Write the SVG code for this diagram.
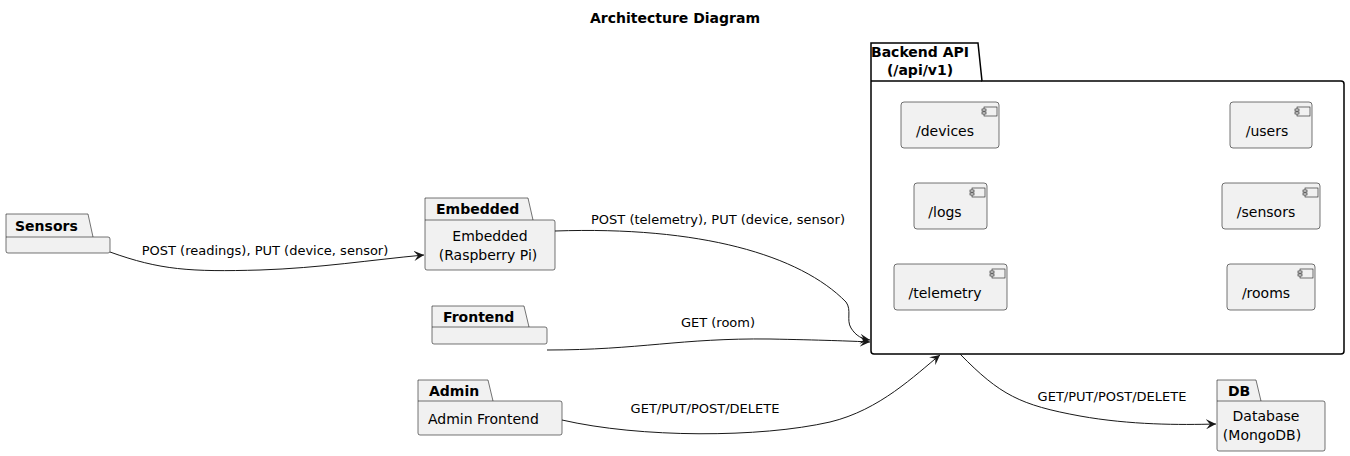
<svg xmlns="http://www.w3.org/2000/svg" width="1350" height="456" viewBox="0 0 1350 456">
<style>
text{font-family:"DejaVu Sans",sans-serif;font-size:13px;fill:#000}
.n{font-size:14px}
.b{font-weight:bold;font-size:14px}
.p{fill:#f1f1f1;stroke:#181818;stroke-width:0.6}
.c{fill:#f1f1f1;stroke:#181818;stroke-width:0.6}
.e{fill:none;stroke:#181818;stroke-width:1}
</style>
<defs><marker id="a" markerWidth="12" markerHeight="10" refX="10" refY="5" orient="auto" markerUnits="userSpaceOnUse"><path d="M0,0 L10,5 L0,10 L4,5 Z" fill="#181818"/></marker>
<g id="ic"><rect x="-10" y="0" width="13" height="9" fill="#f1f1f1" stroke="#181818" stroke-width="0.6"/><rect x="-12" y="2" width="4" height="2" fill="#f1f1f1" stroke="#181818" stroke-width="0.6"/><rect x="-12" y="5" width="4" height="2" fill="#f1f1f1" stroke="#181818" stroke-width="0.6"/></g></defs>
<rect width="1350" height="456" fill="#fff"/>
<text x="675" y="23" text-anchor="middle" class="b">Architecture Diagram</text>
<g id="backend"><path d="M871,43 H978 L982,81 H1341 a3,3 0 0 1 3,3 V351 a3,3 0 0 1 -3,3 H874 a3,3 0 0 1 -3,-3 Z" fill="#fff" stroke="#000" stroke-width="1.5"/><line x1="871" y1="81" x2="982" y2="81" stroke="#000" stroke-width="1.5"/>
<text x="920" y="57" text-anchor="middle" class="b">Backend API</text><text x="920" y="75" text-anchor="middle" class="b">(/api/v1)</text></g>
<g id="devices"><rect class="c" x="901" y="102" width="98" height="46" rx="3"/><use href="#ic" x="994" y="107"/><text x="945" y="136" text-anchor="middle" class="n">/devices</text></g>
<g id="users"><rect class="c" x="1230" y="102" width="82" height="46" rx="3"/><use href="#ic" x="1307" y="107"/><text x="1267" y="136" text-anchor="middle" class="n">/users</text></g>
<g id="logs"><rect class="c" x="914" y="183" width="73" height="46" rx="3"/><use href="#ic" x="982" y="188"/><text x="945" y="217" text-anchor="middle" class="n">/logs</text></g>
<g id="sensors_ep"><rect class="c" x="1222" y="183" width="98" height="46" rx="3"/><use href="#ic" x="1315" y="188"/><text x="1266" y="217" text-anchor="middle" class="n">/sensors</text></g>
<g id="telemetry"><rect class="c" x="894" y="264" width="113" height="46" rx="3"/><use href="#ic" x="1002" y="269"/><text x="945" y="298" text-anchor="middle" class="n">/telemetry</text></g>
<g id="rooms"><rect class="c" x="1227" y="264" width="88" height="46" rx="3"/><use href="#ic" x="1310" y="269"/><text x="1266" y="298" text-anchor="middle" class="n">/rooms</text></g>
<g id="sensors"><path class="p" d="M6,214 H88 L93,237 H108 a2,2 0 0 1 2,2 V251 a2,2 0 0 1 -2,2 H8 a2,2 0 0 1 -2,-2 Z"/><line x1="6" y1="237" x2="93" y2="237" stroke="#181818" stroke-width="0.6"/><text x="15" y="231" class="b">Sensors</text></g>
<g id="embedded"><path class="p" d="M425,198 H528 L533,220 H553 a2,2 0 0 1 2,2 V268 a2,2 0 0 1 -2,2 H427 a2,2 0 0 1 -2,-2 Z"/><line x1="425" y1="220" x2="533" y2="220" stroke="#181818" stroke-width="0.6"/><text x="436" y="214" class="b">Embedded</text><text x="490" y="241" text-anchor="middle" class="n">Embedded</text><text x="488" y="260" text-anchor="middle" class="n">(Raspberry Pi)</text></g>
<g id="frontend"><path class="p" d="M432,306 H524 L529,327 H545 a2,2 0 0 1 2,2 V342 a2,2 0 0 1 -2,2 H434 a2,2 0 0 1 -2,-2 Z"/><line x1="432" y1="327" x2="529" y2="327" stroke="#181818" stroke-width="0.6"/><text x="443" y="322" class="b">Frontend</text></g>
<g id="admin"><path class="p" d="M418,380 H488 L493,401 H560 a2,2 0 0 1 2,2 V433 a2,2 0 0 1 -2,2 H420 a2,2 0 0 1 -2,-2 Z"/><line x1="418" y1="401" x2="493" y2="401" stroke="#181818" stroke-width="0.6"/><text x="429" y="396" class="b">Admin</text><text x="428" y="424" class="n">Admin Frontend</text></g>
<g id="db"><path class="p" d="M1217,380 H1256 L1261,401 H1323 a2,2 0 0 1 2,2 V449 a2,2 0 0 1 -2,2 H1219 a2,2 0 0 1 -2,-2 Z"/><line x1="1217" y1="401" x2="1261" y2="401" stroke="#181818" stroke-width="0.6"/><text x="1228" y="396" class="b">DB</text><text x="1266" y="421" text-anchor="middle" class="n">Database</text><text x="1262" y="440" text-anchor="middle" class="n">(MongoDB)</text></g>
<g id="connectors">
<path class="e" marker-end="url(#a)" d="M110,252 C160,270 190,272 260,270 C320,268 370,260 424,255"/>
<text x="265" y="255" text-anchor="middle">POST (readings), PUT (device, sensor)</text>
<path class="e" marker-end="url(#a)" d="M555,231 C700,226 800,255 846,302 C852,310 846,320 851,328 C856,336 862,339 870,340"/>
<text x="718" y="224" text-anchor="middle">POST (telemetry), PUT (device, sensor)</text>
<path class="e" marker-end="url(#a)" d="M547,350 C640,350 680,338 770,339 C820,340 850,341 870,342"/>
<text x="718" y="327" text-anchor="middle">GET (room)</text>
<path class="e" marker-end="url(#a)" d="M562,420 C640,438 760,438 830,422 C880,410 915,375 940,355"/>
<text x="705" y="413" text-anchor="middle">GET/PUT/POST/DELETE</text>
<path class="e" marker-end="url(#a)" d="M960,354 C1000,395 1020,405 1080,416 C1130,425 1180,425 1216,424"/>
<text x="1112" y="401" text-anchor="middle">GET/PUT/POST/DELETE</text>
</g>
</svg>
